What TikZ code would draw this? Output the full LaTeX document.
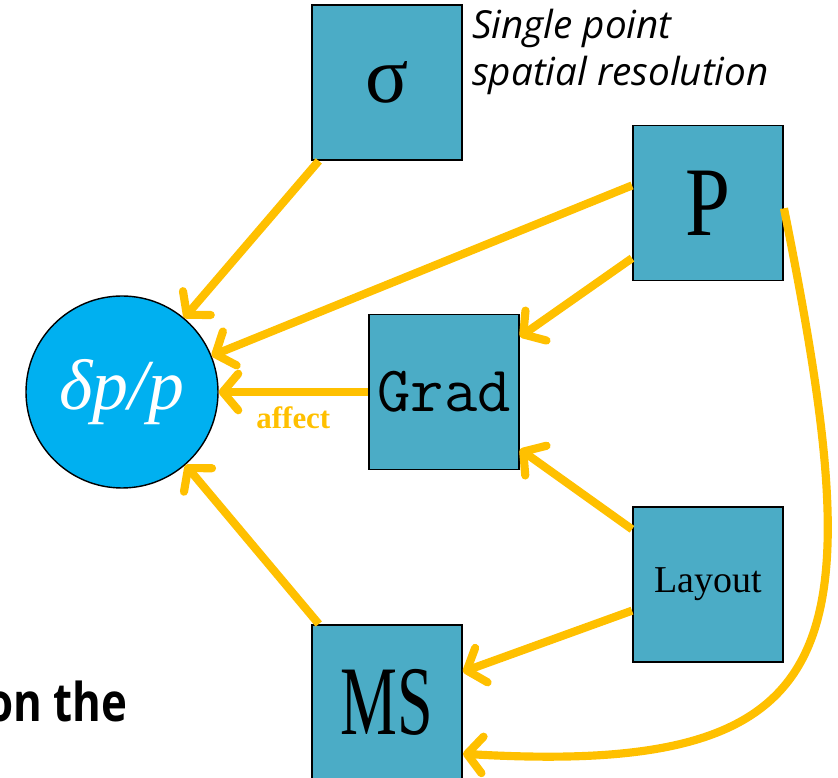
\documentclass[tikz,border=0pt]{standalone}
\usepackage{fontspec}
\setmainfont{Liberation Serif}
\newfontfamily\notefont{Open Sans}
\usepackage{graphicx}
\definecolor{boxfill}{HTML}{4BACC6}
\definecolor{circfill}{HTML}{00B0F0}
\definecolor{arrowc}{HTML}{FFC000}
\usetikzlibrary{arrows.meta}

\begin{document}
\begin{tikzpicture}[
  varbox/.style={rectangle, draw=black, line width=1.4pt, fill=boxfill,
                 minimum width=3.75cm, minimum height=3.875cm, inner sep=0pt},
  affarr/.style={-{Straight Barb[length=11pt,width=26pt,round]},
                 line width=5.8pt, arrowc}
]
  \useasboundingbox (0,0) rectangle (20.95,19.45);
  % variables
  \node[varbox, font=\fontsize{57}{57}\selectfont] (sigma) at (9.675,17.39) {σ};
  \node[varbox, font=\fontsize{70}{70}\selectfont] (p) at (17.7,14.375) {\scalebox{0.82}[1]{P}};
  \node[varbox, font=\ttfamily\fontsize{46}{46}\selectfont] (grad) at (11.1,9.65) {Grad};
  \node[varbox, font=\fontsize{27}{27}\selectfont] (layout) at (17.7,4.8375) {Layout};
  \node[varbox, font=\fontsize{70}{70}\selectfont] (ms) at (9.675,1.8875) {\scalebox{0.65}[1]{MS}};
  \node[circle, draw=black, line width=1pt, fill=circfill, minimum size=4.8cm,
        text=white, font=\itshape\fontsize{51}{51}\selectfont] (dpp) at (3.05,9.65) {δp/p};
  % texts
  \node[anchor=north west, align=left, inner sep=0pt,
        font=\notefont\itshape\fontsize{27.5}{33}\selectfont] (note) at (11.8,19.22)
        {Single point\\spatial resolution};
  \node[anchor=base east, inner sep=0pt,
        font=\notefont\bfseries\fontsize{38}{38}\selectfont] (cut) at (3.2,1.4)
        {\scalebox{0.82}[1]{on the}};
  % arrows
  \draw[affarr] (sigma.229) -- (dpp.50);
  \draw[affarr] (p.167) -- (dpp.22);
  \draw[affarr] (p.216) -- (grad.36);
  \draw[affarr] (grad.west) -- node[below=4pt, font=\bfseries\fontsize{22}{22}\selectfont,
        text=arrowc] (affect) {affect} (dpp.east);
  \draw[affarr] (layout.144) -- (grad.323);
  \draw[affarr] (layout.199) -- (ms.22);
  \draw[affarr] (ms.131) -- (dpp.311);
  \draw[affarr] (p.356) .. controls +(2.2,-11) and +(9.8,-0.575) .. (ms.326);
\end{tikzpicture}
\end{document}
